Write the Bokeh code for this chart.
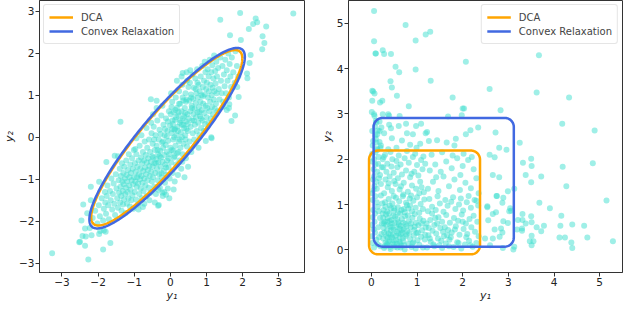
import numpy as np
from bokeh.plotting import figure
from bokeh.layouts import row
from bokeh.models import FixedTicker, Range1d
from bokeh.embed import file_html
from bokeh.resources import INLINE

# ---------------- data ----------------
# left panel: samples outside / at the edge of the ellipses
left_outer = [
    (-3.27, -2.76), (-2.27, -2.91), (-1.86, -2.67), (-1.66, -2.52), (-2.36, -2.58), (-2.52, -2.50),
    (-2.50, -2.49), (-2.43, -2.35), (-2.34, -2.36), (-2.18, -2.33), (-1.97, -2.30), (-1.79, -2.25),
    (-1.84, -2.22), (-1.94, -2.23), (-2.36, -2.17), (-2.23, -2.16), (-2.46, -1.98), (-2.30, -1.81),
    (-2.41, -1.60), (-2.20, -1.50), (-2.20, -1.18), (-1.97, -1.06), (-1.77, -0.59), (-1.54, -0.44),
    (-1.45, -0.45), (-1.38, 0.37), (-0.32, -1.61), (-0.76, -1.66), (-0.22, -1.32), (-0.54, 0.91),
    (-0.38, 0.87), (0.34, 1.53), (0.09, -1.24), (-0.12, -1.37), (-0.34, -1.63), (1.14, -0.02),
    (0.98, -0.09), (0.78, -0.25), (1.13, 0.00), (1.56, 0.65), (1.47, 0.73), (1.63, 0.79),
    (1.89, 0.96), (1.79, 0.52), (1.69, 0.39), (1.93, 2.96), (1.38, 2.80), (2.36, 2.83),
    (2.40, 2.74), (2.29, 2.70), (2.65, 2.64), (2.17, 2.58), (2.55, 2.41), (1.65, 2.43),
    (1.95, 2.32), (2.60, 2.25), (2.54, 2.10), (2.22, 1.96), (2.19, 1.77), (2.12, 1.52),
    (2.13, 1.41), (3.40, 2.95), (1.85, 1.20), (1.62, 0.70),
]
# left panel: samples inside the ellipses
left_core = [
    (-2.15, -1.92), (-2.08, -1.75), (-2.02, -2.05), (-1.98, -1.62), (-1.95, -1.88), (-1.90, -1.45),
    (-1.86, -1.98), (-1.84, -1.70), (-1.81, -1.30), (-1.80, -1.55),
    (-1.78, -1.82), (-1.76, -1.40), (-1.74, -1.15), (-1.72, -1.62), (-1.70, -1.95), (-1.67, -1.28),
    (-1.65, -1.50), (-1.63, -0.98), (-1.61, -1.72), (-1.59, -1.35), (-1.57, -1.10), (-1.55, -1.58),
    (-1.53, -1.85), (-1.51, -0.88), (-1.49, -1.22), (-1.47, -1.45), (-1.45, -1.68), (-1.43, -1.02),
    (-1.42, -1.32), (-1.40, -0.75),
    (-1.39, -1.55), (-1.38, -1.18), (-1.37, -0.92), (-1.36, -1.40), (-1.35, -1.75), (-1.34, -0.62),
    (-1.33, -1.05), (-1.32, -1.28), (-1.31, -1.60), (-1.30, -0.85), (-1.29, -1.12), (-1.28, -1.48),
    (-1.27, -0.70), (-1.26, -0.98), (-1.25, -1.35), (-1.24, -1.80), (-1.23, -1.20), (-1.22, -0.55),
    (-1.21, -0.90), (-1.20, -1.58), (-1.19, -1.05), (-1.18, -1.30), (-1.17, -0.78), (-1.16, -1.45),
    (-1.15, -0.40), (-1.14, -1.15), (-1.13, -0.95), (-1.12, -1.65), (-1.11, -0.65), (-1.10, -1.25),
    (-1.09, -0.85), (-1.08, -1.50), (-1.07, -1.02), (-1.06, -0.50), (-1.05, -1.38), (-1.04, -0.75),
    (-1.03, -1.12), (-1.02, -1.70), (-1.01, -0.30), (-1.00, -0.95),
    (-0.99, -1.30), (-0.98, -0.62), (-0.97, -1.05), (-0.96, -0.82), (-0.95, -1.48), (-0.94, -0.40),
    (-0.93, -1.18), (-0.92, -0.95), (-0.91, -0.70), (-0.90, -1.60), (-0.89, -1.10), (-0.88, -0.55),
    (-0.87, -0.88), (-0.86, -1.35), (-0.85, -0.20), (-0.84, -1.00), (-0.83, -0.75), (-0.82, -1.22),
    (-0.81, -0.48), (-0.80, -0.92), (-0.79, -1.45), (-0.78, -0.62), (-0.77, -1.08), (-0.76, -0.35),
    (-0.75, -0.80), (-0.74, -1.28), (-0.73, -0.55), (-0.72, -0.98), (-0.71, -0.10), (-0.70, -0.72),
    (-0.69, -1.15), (-0.68, -0.42), (-0.67, -0.88), (-0.66, -1.40), (-0.65, -0.60), (-0.64, -0.25),
    (-0.63, -1.02), (-0.62, -0.78), (-0.61, -0.50), (-0.60, -1.20), (-0.59, -0.05), (-0.58, -0.68),
    (-0.57, -0.92), (-0.56, -0.35), (-0.55, -1.32), (-0.54, -0.58), (-0.53, -0.82), (-0.52, 0.10),
    (-0.51, -1.05), (-0.50, -0.45), (-0.97, -0.28), (-0.88, -1.72), (-0.80, 0.05), (-0.72, -1.58),
    (-0.66, 0.22), (-0.58, -1.50), (-0.53, 0.35), (-0.94, -0.02),
    (-0.49, -0.70), (-0.49, -0.15), (-0.48, -0.95), (-0.47, -0.48), (-0.46, 0.25), (-0.45, -1.18),
    (-0.44, -0.62), (-0.43, -0.30), (-0.42, -0.85), (-0.41, 0.05), (-0.40, -1.35), (-0.39, -0.52),
    (-0.38, -0.20), (-0.37, -0.75), (-0.36, 0.40), (-0.35, -1.02), (-0.34, -0.40), (-0.33, -0.60),
    (-0.32, -0.05), (-0.31, -0.88), (-0.30, 0.18), (-0.29, -1.20), (-0.28, -0.32), (-0.27, -0.70),
    (-0.26, -0.48), (-0.25, 0.52), (-0.24, -0.95), (-0.23, -0.12), (-0.22, -0.58), (-0.21, -1.40),
    (-0.20, -0.25), (-0.19, 0.30), (-0.18, -0.80), (-0.17, -0.42), (-0.16, 0.05), (-0.15, -1.08),
    (-0.14, -0.65), (-0.13, -0.18), (-0.12, 0.45), (-0.11, -0.90), (-0.10, -0.35), (-0.09, -0.55),
    (-0.08, 0.15), (-0.07, -1.22), (-0.06, -0.08), (-0.05, -0.72), (-0.04, 0.62), (-0.03, -0.40),
    (-0.02, -0.98), (-0.01, 0.28), (0.00, -0.25), (-0.48, 0.55), (-0.43, -1.55), (-0.38, 0.70),
    (-0.33, -1.25), (-0.27, 0.08), (-0.22, 0.75), (-0.17, -1.30), (-0.12, -0.72), (-0.07, 0.38),
    (-0.03, -1.45), (-0.45, -0.05), (-0.35, -0.30), (-0.25, -0.85), (-0.15, 0.20), (-0.05, -0.50),
    (-0.40, -0.62), (-0.30, -0.45), (-0.20, -0.10), (-0.10, 0.02),
    (0.01, 0.55), (0.02, -0.60), (0.03, 0.10), (0.04, -0.30), (0.05, 0.85), (0.06, -0.85),
    (0.07, 0.32), (0.08, -0.05), (0.09, 0.60), (0.10, -0.48), (0.11, 0.18), (0.12, -1.05),
    (0.13, 0.42), (0.14, -0.20), (0.15, 0.95), (0.16, -0.65), (0.17, 0.05), (0.18, 0.70),
    (0.19, -0.38), (0.20, 0.25), (0.21, -0.90), (0.22, 0.52), (0.23, -0.10), (0.24, 1.10),
    (0.25, -0.55), (0.26, 0.35), (0.27, 0.80), (0.28, -0.25), (0.29, 0.12), (0.30, -0.75),
    (0.31, 0.62), (0.32, 0.00), (0.33, 1.25), (0.34, -0.40), (0.35, 0.45), (0.36, 0.88),
    (0.37, -0.15), (0.38, 0.22), (0.39, -0.95), (0.40, 0.70), (0.41, 0.05), (0.42, 1.05),
    (0.43, -0.50), (0.44, 0.38), (0.45, 0.90), (0.46, -0.22), (0.47, 0.55), (0.48, 0.15),
    (0.49, -0.70), (0.50, 1.20), (0.03, 0.72), (0.08, -0.32), (0.13, 0.20), (0.18, 1.35),
    (0.23, 0.60), (0.28, 0.40), (0.33, -0.58), (0.38, 0.50), (0.43, 0.85), (0.48, 0.32),
    (0.06, 0.40), (0.11, 0.00), (0.16, 0.48), (0.21, 0.15), (0.26, -0.05), (0.31, 1.45),
    (0.36, 0.30), (0.41, 0.58), (0.46, 1.35), (0.02, 1.05), (0.14, 0.65), (0.24, 0.80),
    (0.34, 0.95), (0.44, 0.20), (0.12, -0.45), (0.22, -0.35), (0.32, 0.30), (0.42, -0.05),
    (0.05, 0.20), (0.45, 1.55),
    (0.51, 0.45), (0.52, 0.88), (0.53, -0.10), (0.54, 1.30), (0.55, 0.62), (0.56, 0.25),
    (0.57, 1.02), (0.58, -0.35), (0.59, 0.75), (0.60, 0.40), (0.61, 1.50), (0.62, 0.10),
    (0.63, 0.92), (0.64, 0.55), (0.65, 1.18), (0.66, -0.05), (0.67, 0.68), (0.68, 0.30),
    (0.69, 1.40), (0.70, 0.82), (0.71, 0.48), (0.72, 1.05), (0.73, 0.15), (0.74, 1.62),
    (0.75, 0.60), (0.76, 0.95), (0.77, 0.35), (0.78, 1.25), (0.79, 0.72), (0.80, 0.05),
    (0.81, 1.10), (0.82, 0.50), (0.83, 0.85), (0.84, 1.45), (0.85, 0.22), (0.86, 1.00),
    (0.87, 0.65), (0.88, 1.70), (0.89, 0.40), (0.90, 1.20), (0.91, 0.80), (0.92, 0.15),
    (0.93, 1.35), (0.94, 0.58), (0.95, 1.02), (0.96, 0.32), (0.97, 1.55), (0.98, 0.75),
    (0.99, 1.15), (1.00, 0.48), (0.55, 1.60), (0.65, 0.40), (0.75, 1.30), (0.85, 0.45),
    (0.95, 1.80), (0.60, 0.70), (0.70, 1.15), (0.80, 0.60), (0.90, 0.98), (0.58, 0.95),
    (1.01, 1.30), (1.02, 0.70), (1.03, 1.62), (1.04, 0.95), (1.05, 0.35), (1.06, 1.45),
    (1.07, 1.10), (1.08, 0.62), (1.09, 1.85), (1.10, 0.85), (1.11, 1.25), (1.12, 0.45),
    (1.13, 1.55), (1.14, 1.00), (1.15, 0.72), (1.16, 1.72), (1.17, 1.18), (1.18, 0.55),
    (1.19, 1.40), (1.20, 0.90), (1.21, 1.95), (1.22, 1.10), (1.23, 0.68), (1.24, 1.58),
    (1.25, 1.28), (1.26, 0.80), (1.27, 1.80), (1.28, 1.05), (1.29, 1.45), (1.30, 0.62),
    (1.32, 1.65), (1.34, 1.15), (1.36, 0.90), (1.38, 1.90), (1.40, 1.35), (1.42, 1.05),
    (1.44, 1.70), (1.46, 0.85), (1.48, 1.50), (1.50, 1.22),
    (1.52, 1.85), (1.54, 1.05), (1.56, 1.60), (1.58, 1.35), (1.60, 2.00), (1.62, 0.95),
    (1.64, 1.75), (1.66, 1.45), (1.68, 1.20), (1.70, 1.90), (1.74, 1.55), (1.78, 1.30),
    (1.80, 2.05), (1.84, 1.70), (1.88, 1.45),
]

# right panel: samples outside the orange box
right_outer = [
    (0.06, 5.27), (0.75, 4.96), (0.06, 4.60), (1.19, 4.75), (1.29, 4.81), (0.97, 4.62),
    (0.09, 4.33), (0.10, 4.33), (0.25, 4.40), (0.28, 4.32), (0.43, 4.32), (3.67, 4.29),
    (2.07, 4.15), (0.53, 4.04), (0.61, 3.92), (0.97, 3.98), (0.42, 3.72), (0.45, 3.58),
    (1.30, 3.73), (2.59, 3.55), (0.02, 3.51), (0.04, 3.49), (0.07, 3.45), (0.56, 3.40),
    (1.78, 3.36), (3.62, 3.47), (4.33, 3.36), (0.02, 3.29), (0.19, 3.25), (0.24, 3.29),
    (0.82, 3.17), (0.62, 2.95), (0.01, 3.04), (0.06, 2.99), (0.25, 2.99), (0.37, 2.99),
    (0.39, 2.96), (2.00, 3.12), (2.03, 3.12), (2.83, 3.08), (1.98, 2.97), (1.68, 2.94),
    (2.34, 2.70), (2.17, 2.64), (2.07, 2.55), (2.72, 2.59), (4.18, 2.78), (4.89, 2.63),
    (0.11, 2.81), (0.18, 2.83), (0.39, 2.76), (0.60, 2.73), (0.76, 2.78), (0.98, 2.73),
    (1.09, 2.78), (1.22, 2.60), (1.19, 2.57), (0.91, 2.55), (0.78, 2.57), (0.43, 2.68),
    (0.14, 2.63), (0.09, 2.52), (0.28, 2.57), (0.45, 2.46), (0.67, 2.41), (0.85, 2.32),
    (1.07, 2.34), (1.26, 2.40), (1.44, 2.42), (1.65, 2.37), (1.82, 2.30), (1.85, 2.45),
    (0.11, 2.37), (0.21, 2.30), (0.55, 2.25), (0.37, 2.22), (0.13, 2.23), (0.99, 2.25),
    (3.25, 2.36), (2.80, 2.25), (2.96, 2.21), (2.59, 2.10), (2.70, 2.04), (3.32, 1.92),
    (3.50, 2.01), (3.51, 1.85), (2.66, 1.65), (2.80, 1.60), (3.38, 1.65), (3.72, 1.62),
    (3.50, 1.49), (4.19, 1.83), (4.85, 1.91), (4.27, 1.40), (2.99, 1.29), (3.13, 1.35),
    (2.75, 1.19), (2.89, 1.15), (2.87, 1.04), (2.54, 0.96), (3.68, 1.04), (3.91, 0.92),
    (5.15, 1.09), (3.04, 0.92), (3.06, 0.86), (3.02, 0.85), (3.31, 0.79), (3.50, 0.74),
    (4.16, 0.75), (2.89, 0.63), (2.99, 0.59), (3.21, 0.66), (3.31, 0.66), (3.38, 0.58),
    (3.51, 0.61), (3.62, 0.50), (3.78, 0.53), (3.72, 0.41), (4.14, 0.53), (4.40, 0.56),
    (4.66, 0.53), (2.84, 0.47), (2.87, 0.38), (3.19, 0.45), (3.30, 0.47), (3.30, 0.42),
    (3.51, 0.31), (3.47, 0.19), (3.55, 0.19), (3.51, 0.10), (4.12, 0.27), (4.24, 0.27),
    (4.38, 0.16), (4.40, 0.04), (4.73, 0.27), (5.29, 0.19), (3.13, 0.07), (3.11, 0.01),
    (2.88, 0.04), (2.49, 0.25), (2.54, 0.94), (2.56, 0.65), (2.66, 0.25), (2.81, 0.29),
    (2.74, 1.19), (2.66, 0.79), (2.73, 0.83), (2.60, 0.10), (2.70, 0.45),
]
# right panel: samples inside the orange box
right_core = [
    (0.02, 0.15), (0.05, 0.45), (0.08, 0.80), (0.03, 1.10), (0.12, 1.35), (0.06, 1.62),
    (0.15, 1.90), (0.09, 2.15), (0.04, 2.40), (0.18, 2.62), (0.10, 2.85), (0.01, 0.30),
    (0.07, 0.62), (0.14, 0.95), (0.02, 1.25), (0.11, 1.50), (0.05, 1.78), (0.16, 2.05),
    (0.03, 2.30), (0.13, 2.55), (0.08, 2.72), (0.20, 0.08), (0.22, 0.35), (0.19, 0.70),
    (0.24, 1.02), (0.21, 1.20), (0.17, 1.58), (0.23, 1.82), (0.20, 2.25), (0.25, 2.00),
    (0.01, 0.55), (0.04, 0.88), (0.09, 1.18), (0.13, 1.72), (0.06, 2.00), (0.18, 2.38),
    (0.02, 2.62), (0.11, 0.22), (0.15, 0.50), (0.03, 0.72), (0.12, 1.05), (0.07, 1.40),
    (0.19, 1.65), (0.01, 1.95), (0.10, 2.45), (0.14, 0.12), (0.06, 0.05), (0.23, 0.58),
    (0.08, 0.38), (0.16, 0.85), (0.04, 1.55), (0.21, 1.45), (0.09, 1.88), (0.02, 2.12),
    (0.17, 0.28), (0.25, 0.80), (0.05, 1.32), (0.13, 2.20), (0.22, 2.70), (0.07, 2.95),
    (0.28, 0.04), (0.35, 0.10), (0.42, 0.02), (0.50, 0.12), (0.57, 0.05), (0.66, 0.09),
    (0.73, 0.01), (0.81, 0.13), (0.88, 0.06), (0.97, 0.03), (1.05, 0.11), (1.13, 0.05),
    (0.31, 0.16), (0.61, 0.18), (0.92, 0.17),
    (0.26, 0.25), (0.33, 0.30), (0.40, 0.20), (0.47, 0.33), (0.54, 0.22), (0.62, 0.28),
    (0.70, 0.19), (0.77, 0.34), (0.85, 0.24), (0.93, 0.31), (1.01, 0.21), (1.09, 0.29),
    (1.17, 0.23), (0.38, 0.36), (0.68, 0.38), (0.99, 0.37),
    (0.27, 0.48), (0.34, 0.42), (0.41, 0.52), (0.49, 0.45), (0.56, 0.40), (0.64, 0.53),
    (0.71, 0.46), (0.79, 0.41), (0.86, 0.50), (0.94, 0.44), (1.03, 0.54), (1.11, 0.43),
    (1.19, 0.49), (0.45, 0.58), (0.75, 0.57),
    (0.29, 0.62), (0.36, 0.70), (0.44, 0.66), (0.52, 0.73), (0.59, 0.61), (0.67, 0.68),
    (0.74, 0.74), (0.82, 0.63), (0.90, 0.71), (0.98, 0.60), (1.06, 0.69), (1.14, 0.64),
    (0.32, 0.78), (0.63, 0.80), (0.95, 0.79),
    (0.27, 0.88), (0.35, 0.84), (0.43, 0.92), (0.50, 0.86), (0.58, 0.94), (0.66, 0.88),
    (0.73, 0.83), (0.81, 0.91), (0.89, 0.85), (0.97, 0.93), (1.05, 0.82), (1.13, 0.90),
    (0.40, 0.98), (0.78, 0.99),
    (0.30, 1.05), (0.38, 1.12), (0.46, 1.02), (0.54, 1.15), (0.61, 1.07), (0.69, 1.18),
    (0.76, 1.04), (0.84, 1.13), (0.92, 1.08), (1.00, 1.16), (1.08, 1.01), (1.16, 1.11),
    (0.49, 1.19), (0.87, 1.20),
    (0.30, 0.08), (0.37, 0.18), (0.45, 0.27), (0.52, 0.07), (0.59, 0.36), (0.33, 0.55),
    (0.40, 0.64), (0.48, 0.75), (0.55, 0.50), (0.63, 0.15), (0.70, 0.60), (0.28, 0.38),
    (0.36, 0.27), (0.43, 0.43), (0.51, 0.60), (0.58, 0.82), (0.65, 0.35), (0.72, 0.10),
    (0.26, 0.70), (0.39, 0.80), (0.47, 0.14), (0.54, 0.31), (0.62, 0.47), (0.69, 0.26),
    (0.77, 0.52), (0.31, 0.95), (0.42, 0.32), (0.50, 0.92), (0.57, 0.68), (0.64, 0.05),
    (0.34, 0.13), (0.41, 0.07), (0.49, 0.21), (0.56, 0.13), (0.27, 0.58), (0.35, 0.62),
    (0.44, 0.50), (0.60, 0.56), (0.67, 0.44), (0.75, 0.30), (0.83, 0.37), (0.90, 0.14),
    (0.80, 0.76), (0.87, 0.58), (0.95, 0.51), (1.02, 0.38), (1.10, 0.58), (1.18, 0.33),
    (0.71, 0.90), (0.85, 0.98),
    (0.28, 1.25), (0.36, 1.38), (0.45, 1.30), (0.53, 1.45), (0.62, 1.33), (0.71, 1.48),
    (0.80, 1.28), (0.89, 1.42), (0.98, 1.35), (1.07, 1.50), (1.15, 1.27), (0.31, 1.55),
    (0.40, 1.62), (0.49, 1.70), (0.58, 1.58), (0.67, 1.66), (0.76, 1.75), (0.85, 1.60),
    (0.94, 1.72), (1.03, 1.64), (1.12, 1.78), (0.26, 1.82), (0.35, 1.90), (0.44, 1.84),
    (0.55, 1.96), (0.64, 1.88), (0.73, 2.02), (0.82, 1.92), (0.91, 2.05), (1.00, 1.87),
    (1.09, 1.98), (1.18, 1.90), (0.30, 2.10), (0.42, 2.16), (0.60, 2.08), (0.78, 2.18),
    (0.96, 2.12), (1.14, 2.06), (0.50, 1.52), (0.70, 1.22), (0.88, 1.68), (0.33, 1.72),
    (0.46, 2.00), (0.65, 1.40), (1.05, 1.25), (0.27, 2.05), (0.38, 1.47), (0.57, 1.82),
    (1.10, 1.38),
    (1.22, 0.05), (1.30, 0.18), (1.38, 0.08), (1.46, 0.25), (1.55, 0.04), (1.63, 0.14),
    (1.71, 0.22), (1.80, 0.06), (1.88, 0.17), (1.97, 0.03), (2.05, 0.12), (2.14, 0.20),
    (2.22, 0.07), (2.30, 0.15),
    (1.25, 0.32), (1.34, 0.42), (1.42, 0.36), (1.51, 0.48), (1.59, 0.30), (1.68, 0.44),
    (1.76, 0.38), (1.85, 0.52), (1.93, 0.33), (2.02, 0.46), (2.10, 0.35), (2.19, 0.50),
    (2.27, 0.40), (2.35, 0.30),
    (1.21, 0.58), (1.29, 0.66), (1.38, 0.55), (1.47, 0.72), (1.55, 0.62), (1.64, 0.77),
    (1.72, 0.60), (1.81, 0.70), (1.90, 0.64), (1.98, 0.78), (2.07, 0.58), (2.15, 0.68),
    (2.24, 0.75), (2.32, 0.62),
    (1.24, 0.85), (1.33, 0.95), (1.41, 0.88), (1.50, 1.02), (1.58, 0.84), (1.67, 0.97),
    (1.75, 1.06), (1.84, 0.90), (1.92, 1.00), (2.01, 0.87), (2.09, 1.05), (2.18, 0.93),
    (2.26, 1.10), (2.34, 0.98),
    (1.27, 1.12), (1.45, 1.18), (1.62, 1.10), (1.79, 1.16), (1.96, 1.13), (2.13, 1.19),
    (2.30, 1.08),
    (1.28, 0.25), (1.36, 0.12), (1.44, 0.58), (1.53, 0.20), (1.61, 0.50), (1.70, 0.08),
    (1.26, 0.48), (1.40, 0.70), (1.57, 0.40), (1.74, 0.28), (1.91, 0.15), (2.08, 0.28),
    (1.33, 0.80), (1.49, 0.10), (1.66, 0.32), (1.83, 0.45), (2.00, 0.62), (2.17, 0.10),
    (1.24, 1.35), (1.35, 1.50), (1.47, 1.30), (1.58, 1.62), (1.70, 1.40), (1.82, 1.55),
    (1.94, 1.32), (2.06, 1.48), (2.18, 1.36), (2.30, 1.58), (1.28, 1.75), (1.40, 1.88),
    (1.52, 1.72), (1.64, 1.95), (1.76, 1.80), (1.88, 2.02), (2.00, 1.85), (2.12, 1.98),
    (2.24, 1.78), (1.32, 2.10), (1.55, 2.15), (1.78, 2.08), (2.02, 2.12), (2.20, 2.05),
    (1.42, 1.60), (1.95, 1.65), (2.35, 1.25),
]

left_ticks = [-3, -2, -1, 0, 1, 2, 3]
right_ticks = [0, 1, 2, 3, 4, 5]
left_xlim, left_ylim = (-3.62, 3.71), (-3.22, 3.26)
right_xlim, right_ylim = (-0.5, 5.5), (-0.5, 5.5)

series_names = ["DCA", "Convex Relaxation"]
series_colors = ["orange", "royalblue"]
# ellipse shapes (centre x, centre y, radius, correlation)
left_shapes = [(-0.10, -0.01, 2.09, 0.905), (-0.09, -0.02, 2.15, 0.90)]
# rounded boxes (x0, x1, y0, y1, corner radius)
right_shapes = [(-0.05, 2.38, -0.10, 2.19, 0.2), (0.05, 3.12, 0.07, 2.91, 0.2)]

POINT_COLOR = "turquoise"
FONT = "DejaVu Sans"


def ellipse_path(cx, cy, r, rho):
    t = np.linspace(0, 2 * np.pi, 361)
    u, v = np.cos(t), np.sin(t)
    return cx + r * u, cy + r * (rho * u + np.sqrt(1 - rho ** 2) * v)


def box_path(x0, x1, y0, y1, rad):
    xs, ys = [], []
    corners = [((x1 - rad, y0 + rad), -90), ((x1 - rad, y1 - rad), 0),
               ((x0 + rad, y1 - rad), 90), ((x0 + rad, y0 + rad), 180)]
    for (ccx, ccy), a0 in corners:
        a = np.radians(np.linspace(a0, a0 + 90, 20))
        xs.extend(ccx + rad * np.cos(a))
        ys.extend(ccy + rad * np.sin(a))
    xs.append(xs[0]); ys.append(ys[0])
    return xs, ys


def make_fig(width, pts, xlim, ylim, ticks, mbl, mbr):
    p = figure(width=width, height=304, x_range=Range1d(*xlim), y_range=Range1d(*ylim),
               output_backend="svg", toolbar_location=None,
               min_border_left=mbl, min_border_right=mbr, min_border_top=0, min_border_bottom=0)
    p.grid.visible = False
    p.outline_line_color = "#333333"
    p.outline_line_width = 1
    xs = [a for a, b in pts]
    ys = [b for a, b in pts]
    p.scatter(xs, ys, size=6, fill_color=POINT_COLOR, fill_alpha=0.5, line_color=None)
    overrides = {t: str(t).replace("-", "\u2212") for t in ticks}
    for ax, lab in ((p.xaxis[0], "y\u2081"), (p.yaxis[0], "y\u2082")):
        ax.ticker = FixedTicker(ticks=ticks)
        ax.major_label_overrides = overrides
        ax.minor_tick_line_color = None
        ax.major_tick_in = 0
        ax.major_tick_out = 4
        ax.axis_line_color = "#333333"
        ax.major_tick_line_color = "#333333"
        ax.major_label_text_font = FONT
        ax.major_label_text_font_size = "10.5px"
        ax.major_label_text_color = "#222222"
        ax.major_label_standoff = 1
        ax.axis_label = lab
        ax.axis_label_text_font = FONT
        ax.axis_label_text_font_size = "11px"
        ax.axis_label_text_font_style = "italic"
        ax.axis_label_text_color = "#222222"
        ax.axis_label_standoff = 0
    return p


p1 = make_fig(312, left_outer + left_core, left_xlim, left_ylim, left_ticks, 24, 8)
for (cx, cy, r, rho), name, col in zip(left_shapes, series_names, series_colors):
    ex, ey = ellipse_path(cx, cy, r, rho)
    p1.line(ex, ey, line_color=col, line_width=2.5, legend_label=name)

p2 = make_fig(312, right_outer + right_core, right_xlim, right_ylim, right_ticks, 36, 2)
for (x0, x1, y0, y1, rad), name, col in zip(right_shapes, series_names, series_colors):
    bx, by = box_path(x0, x1, y0, y1, rad)
    p2.line(bx, by, line_color=col, line_width=2.5, legend_label=name)

for p, loc in ((p1, "top_left"), (p2, "top_right")):
    lg = p.legend[0]
    lg.location = loc
    lg.label_text_font = FONT
    lg.label_text_font_size = "10px"
    lg.border_line_color = "#cccccc"
    lg.background_fill_alpha = 0.85
    lg.padding = 5
    lg.spacing = 0
    lg.margin = 4
    lg.glyph_width = 24
    lg.glyph_height = 14
    lg.label_height = 14
    lg.label_standoff = 8
    lg.border_radius = 3

layout = row(p1, p2)
open("out.html", "w").write(file_html(layout, INLINE))
